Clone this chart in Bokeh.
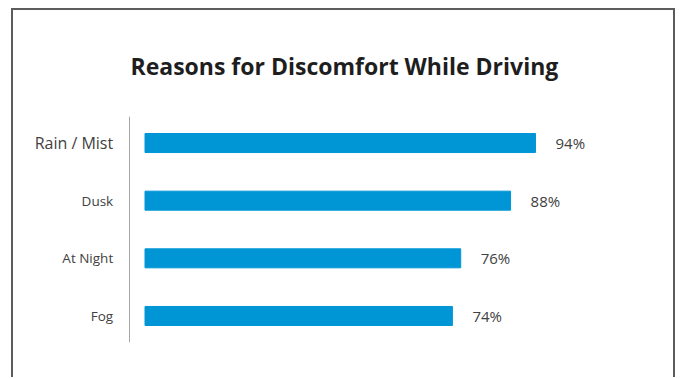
from bokeh.plotting import figure
from bokeh.models import Range1d, FactorRange, ColumnDataSource
from bokeh.embed import file_html
from bokeh.resources import INLINE
from bokeh.core.properties import value

# ---- data ----
categories = ["Rain / Mist", "Dusk", "At Night", "Fog"]
percent = [94, 88, 76, 74]
value_labels = [f"{v}%" for v in percent]
title_text = "Reasons for Discomfort While Driving"

# ---- style ----
FONT = "Open Sans"
BAR = "#0096d6"
TEXT = "#414141"
FRAME = "#5c5c5c"
cat_font_sizes = ["16px", "13.5px", "13.5px", "13.5px"]
AXIS_AT = -3.85      # x (data units) where the category axis line sits
LABEL_AT = -7.66     # right edge of category labels (data units)

src = ColumnDataSource(dict(cat=categories, v=percent, lab=value_labels,
                            fs=cat_font_sizes))

y_range = FactorRange(factors=categories[::-1], range_padding=-0.04,
                      range_padding_units="absolute")
p = figure(width=664, height=369, y_range=y_range, x_range=Range1d(-31.66, 128.19),
           output_backend="svg", toolbar_location=None,
           min_border_left=0, min_border_right=0,
           min_border_top=106, min_border_bottom=37)

p.styles = {"border-top": f"2px solid {FRAME}",
            "border-left": f"2px solid {FRAME}",
            "border-right": f"2px solid {FRAME}",
            "margin-left": "11px",
            "margin-top": "8px"}

p.outline_line_color = None
p.xgrid.visible = False
p.ygrid.visible = False
p.xaxis.visible = False

p.hbar(y="cat", right="v", left=0, height=0.33, color=BAR, source=src)
p.text(x="v", y="cat", text="lab", x_offset=20, text_baseline="middle",
       text_align="left", text_font=value(FONT), text_font_size="15px",
       text_color=TEXT, source=src)
# category labels (per-row font size)
p.text(x=LABEL_AT, y="cat", text="cat", text_baseline="middle",
       text_align="right", text_font=value(FONT), text_font_size="fs",
       text_color=TEXT, source=src)

ax = p.yaxis[0]
ax.fixed_location = AXIS_AT
ax.axis_line_color = "#a6a6a6"
ax.axis_line_width = 1
ax.major_tick_line_color = None
ax.minor_tick_line_color = None
ax.major_label_text_color = None

p.title.text = title_text
p.title.text_font = FONT
p.title.text_font_size = "23px"
p.title.text_font_style = "bold"
p.title.text_color = "#1e1e1e"
p.title.align = "left"
p.title.offset = 117
p.title.standoff = 70

open("out.html", "w").write(file_html(p, INLINE))
